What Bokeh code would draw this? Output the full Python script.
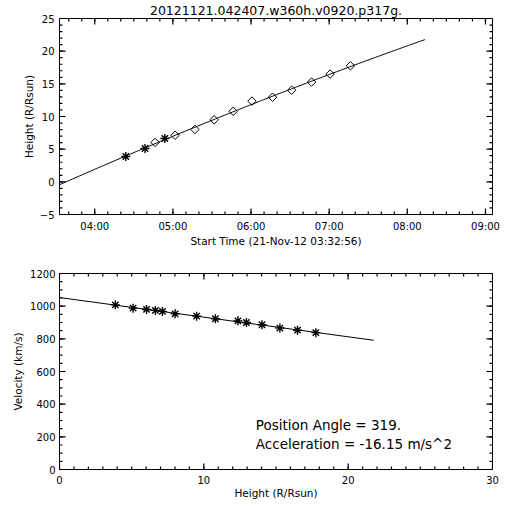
import numpy as np
import pandas as pd
from bokeh.plotting import figure
from bokeh.layouts import column
from bokeh.models import (Range1d, FixedTicker, DatetimeTickFormatter, Label)
from bokeh.embed import file_html
from bokeh.resources import INLINE

# ---------------- data ----------------
title_text = "20121121.042407.w360h.v0920.p317g."
start_time = "2012-11-21 03:32:56"
axis_end_time = "2012-11-21 09:05:24"
fit_end_time = "2012-11-21 08:13:30"
x_label_top = "Start Time (21-Nov-12 03:32:56)"

times = ["2012-11-21 04:23:50", "2012-11-21 04:38:36", "2012-11-21 04:46:18",
         "2012-11-21 04:53:48", "2012-11-21 05:01:42", "2012-11-21 05:16:54",
         "2012-11-21 05:31:42", "2012-11-21 05:46:18", "2012-11-21 06:00:42",
         "2012-11-21 06:16:30", "2012-11-21 06:31:12", "2012-11-21 06:46:30",
         "2012-11-21 07:00:42", "2012-11-21 07:16:18"]
instrument = ["C2", "C2", "C3", "C2", "C3", "C3", "C3", "C3", "C3", "C3", "C3", "C3", "C3", "C3"]
heights = [3.87, 5.10, 6.03, 6.64, 7.13, 8.01, 9.50, 10.80, 12.36, 12.95, 14.03, 15.27, 16.49, 17.76]
velocities = [1008, 988, 980, 974, 968, 953, 939, 923, 910, 900, 886, 866, 853, 838]

hour_ticks = ["2012-11-21 04:00", "2012-11-21 05:00", "2012-11-21 06:00",
              "2012-11-21 07:00", "2012-11-21 08:00", "2012-11-21 09:00"]
height_ticks = [-5, 0, 5, 10, 15, 20, 25]
vel_ticks = [0, 200, 400, 600, 800, 1000, 1200]
hgt_ticks = [0, 10, 20, 30]

position_angle_text = "Position Angle =  319."
acceleration_text = "Acceleration = -16.15 m/s^2"

# ---------------- helpers ----------------
FONT = "DejaVu Sans"
FRAME_W, FRAME_H = 433, 196   # plot-area size in pixels
MBL, MBR = 59, 16


def ms(s):
    return pd.Timestamp(s).value / 1e6


t0 = ms(start_time)
t_end_axis = ms(axis_end_time)
t_ms = np.array([ms(s) for s in times])
t_h = (t_ms - t0) / 3.6e6
h_arr = np.array(heights)
v_arr = np.array(velocities)

# quadratic height-time fit
hc = np.polyfit(t_h, h_arr, 2)
t_end_h = (ms(fit_end_time) - t0) / 3.6e6
t_line_h = np.linspace(0, t_end_h, 200)
h_line = np.polyval(hc, t_line_h)
t_line_ms = t0 + t_line_h * 3.6e6

# velocity-height fit line
vc = np.polyfit(h_arr, v_arr, 1)
hv_line = np.array([h_line[0], h_line[-1]])
v_line = np.polyval(vc, hv_line)

hour_ms = [ms(s) for s in hour_ticks]
minor_ms = [float(v) for v in np.arange(ms("2012-11-21 03:40"), t_end_axis, 600000.0)]


def style_axis(ax):
    ax.axis_line_color = "black"
    ax.axis_line_width = 1
    ax.major_tick_line_color = None
    ax.minor_tick_line_color = None
    ax.major_tick_in = 0
    ax.major_tick_out = 0
    ax.minor_tick_in = 0
    ax.minor_tick_out = 0
    ax.major_label_text_font = FONT
    ax.major_label_text_font_size = "10px"
    ax.major_label_text_color = "black"
    ax.axis_label_text_font = FONT
    ax.axis_label_text_font_size = "10.5px"
    ax.axis_label_text_font_style = "normal"
    ax.axis_label_text_color = "black"


def inward_ticks(p, xmaj, xmin_, ymaj, ymin_, xr, yr):
    """IDL-style inward ticks on all four sides (lengths converted from pixels)."""
    x0, x1 = xr
    y0, y1 = yr
    px_x = (x1 - x0) / FRAME_W
    px_y = (y1 - y0) / FRAME_H
    xs0, ys0, xs1, ys1 = [], [], [], []
    for vals, ln in [(xmaj, 6), (xmin_, 3)]:
        for v in vals:
            xs0 += [float(v), float(v)]
            xs1 += [float(v), float(v)]
            ys0 += [float(y0), float(y1)]
            ys1 += [float(y0 + ln * px_y), float(y1 - ln * px_y)]
    for vals, ln in [(ymaj, 6), (ymin_, 3)]:
        for v in vals:
            ys0 += [float(v), float(v)]
            ys1 += [float(v), float(v)]
            xs0 += [float(x0), float(x1)]
            xs1 += [float(x0 + ln * px_x), float(x1 - ln * px_x)]
    p.segment(x0=xs0, y0=ys0, x1=xs1, y1=ys1, line_color="black", line_width=1.2)


def base_fig(height, mbt, mbb, **kw):
    p = figure(width=MBL + FRAME_W + MBR, height=height, output_backend="svg",
               toolbar_location=None, min_border_left=MBL, min_border_right=MBR,
               min_border_top=mbt, min_border_bottom=mbb, **kw)
    p.xgrid.visible = False
    p.ygrid.visible = False
    p.outline_line_color = "black"
    p.outline_line_alpha = 1
    p.background_fill_color = "white"
    p.border_fill_color = "white"
    return p


# ---------------- top: height-time ----------------
p1 = base_fig(18 + FRAME_H + 40, 18, 40, x_axis_type="datetime",
              x_range=Range1d(t0, t_end_axis), y_range=Range1d(-5, 25))
p1.title.text = title_text
p1.title.align = "center"
p1.title.text_font = FONT
p1.title.text_font_size = "12.5px"
p1.title.text_font_style = "normal"
p1.title.text_color = "black"
p1.title.standoff = 1

p1.xaxis.ticker = FixedTicker(ticks=hour_ms)
p1.xaxis.formatter = DatetimeTickFormatter(hours="%H:%M", hourmin="%H:%M", minutes="%H:%M")
p1.yaxis.ticker = FixedTicker(ticks=height_ticks)
p1.xaxis.axis_label = x_label_top
p1.yaxis.axis_label = "Height (R/Rsun)"
style_axis(p1.xaxis[0])
style_axis(p1.yaxis[0])
p1.xaxis.major_label_standoff = 6
p1.xaxis.axis_label_standoff = 0
p1.yaxis.major_label_standoff = 5
p1.yaxis.axis_label_standoff = 2

p1.line(t_line_ms, h_line, line_color="black", line_width=1)
inward_ticks(p1, hour_ms, minor_ms, height_ticks, list(range(-5, 26)),
             (t0, t_end_axis), (-5, 25))

c2 = [i for i, s in enumerate(instrument) if s == "C2"]
c3 = [i for i, s in enumerate(instrument) if s == "C3"]
p1.scatter(t_ms[c2], h_arr[c2], marker="asterisk", size=9, line_color="black", line_width=1.4)
p1.scatter(t_ms[c3], h_arr[c3], marker="square", angle=np.pi / 4, size=6,
           fill_color=None, line_color="black", line_width=1)

# ---------------- bottom: velocity-height ----------------
p2 = base_fig(19 + FRAME_H + 33, 19, 33, x_range=Range1d(0, 30), y_range=Range1d(0, 1200))
p2.xaxis.ticker = FixedTicker(ticks=hgt_ticks)
p2.yaxis.ticker = FixedTicker(ticks=vel_ticks)
p2.xaxis.axis_label = "Height (R/Rsun)"
p2.yaxis.axis_label = "Velocity (km/s)"
style_axis(p2.xaxis[0])
style_axis(p2.yaxis[0])
p2.xaxis.major_label_standoff = 6
p2.xaxis.axis_label_standoff = 0
p2.yaxis.major_label_standoff = 4
p2.yaxis.axis_label_standoff = 3

p2.line(hv_line, v_line, line_color="black", line_width=1)
inward_ticks(p2, hgt_ticks, list(range(0, 31)), vel_ticks, list(range(0, 1201, 50)),
             (0, 30), (0, 1200))
p2.scatter(h_arr, v_arr, marker="asterisk", size=9, line_color="black", line_width=1.4)

for txt, yy in [(position_angle_text, 273), (acceleration_text, 155)]:
    p2.add_layout(Label(x=13.6, y=yy, text=txt, text_align="left", text_baseline="middle",
                        text_font=FONT, text_font_size="13.5px", text_color="black"))

layout = column(p1, p2, spacing=0)
open("out.html", "w").write(file_html(layout, INLINE))
